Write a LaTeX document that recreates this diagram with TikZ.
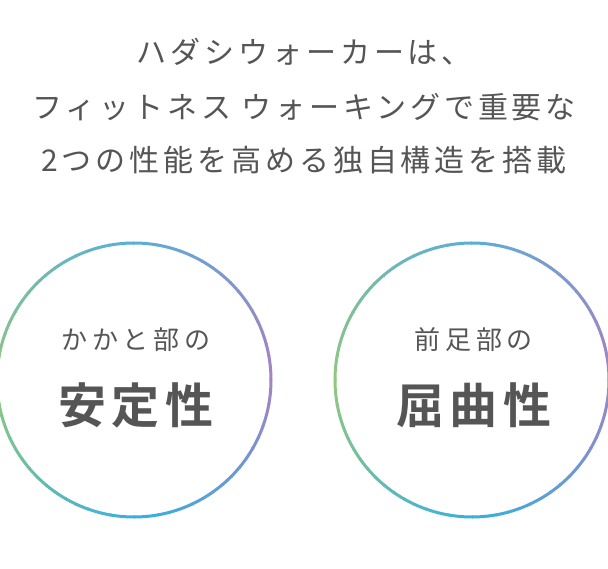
\documentclass[tikz,border=0pt]{standalone}
\usepackage{fontspec}
\setmainfont{Noto Sans CJK JP}[BoldFont={Noto Sans CJK JP Bold}]
\definecolor{tc}{RGB}{85,85,85}
\definecolor{cP}{RGB}{165,130,195}
\definecolor{cT}{RGB}{90,175,215}
\definecolor{cG}{RGB}{145,200,125}
\definecolor{cB}{RGB}{55,175,225}
\tikzset{ttl/.style={text=tc,font=\fontsize{30}{30}\selectfont\addfontfeature{LetterSpace=13}},
 sub/.style={text=tc,font=\fontsize{26}{26}\selectfont\addfontfeature{LetterSpace=18}},
 big/.style={text=tc,font=\fontsize{48}{48}\selectfont\bfseries\addfontfeature{LetterSpace=11}}}
\begin{document}
\begin{tikzpicture}[x=1pt,y=1pt]
\clip (0,0) rectangle (608,-569);
\useasboundingbox (0,0) rectangle (608,-569);
\fill[white] (0,0) rectangle (608,-569);
\node[ttl] (t1) at (304,-52) {ハダシウォーカーは、};
\node[ttl] (t2) at (304,-107) {フィットネス ウォーキングで重要な};
\node[ttl] (t3) at (304,-160) {2つの性能を高める独自構造を搭載};
\foreach \cx/\nm in {134/L,472/R}{
 \coordinate (\nm) at (\cx,-380);
 \foreach \q/\ca/\cb in {0/cP/cT,90/cT/cG,180/cG/cB,270/cB/cP}{
  \foreach \i in {0,...,17}{
   \pgfmathsetmacro\p{100-\i*100/18}
   \draw[color=\ca!\p!\cb,line width=3] (\nm) ++(\q+\i*5:137) arc[start angle=\q+\i*5,delta angle=5.4,radius=137];
  }}}
\node[sub] (a1) at (136,-340) {かかと部の};
\node[big] (a2) at (136,-405) {安定性};
\node[sub] (b1) at (474,-340) {前足部の};
\node[big] (b2) at (474,-405) {屈曲性};
\end{tikzpicture}
\end{document}
